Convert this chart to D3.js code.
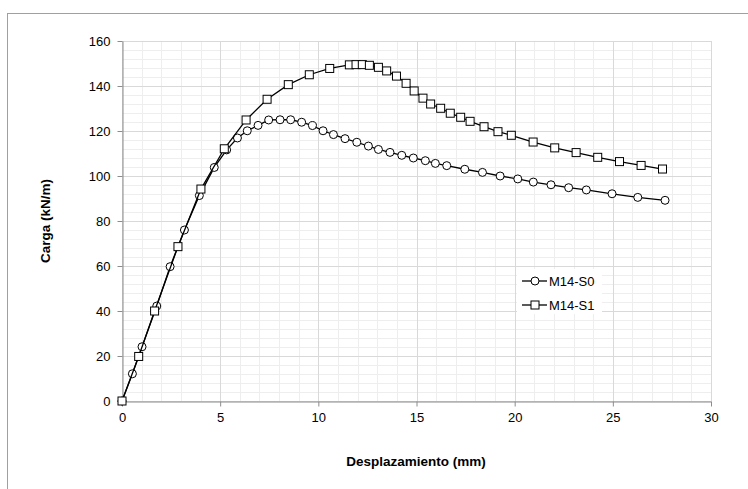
<!DOCTYPE html>
<html>
<head>
<meta charset="utf-8">
<script src="https://cdn.jsdelivr.net/npm/d3@7"></script>
<style>
    body { margin: 0; background: #fff; }
    svg text { font-family: "Liberation Sans", Arial, sans-serif; fill: #000; }
</style>
</head>
<body>
<div id="chart"></div>
<script>
// M14-S0 (circulos)
let s0x = [0, 0.53, 1.02, 1.77, 2.45, 3.18, 3.94, 4.70, 5.33, 5.88, 6.38, 6.93, 7.47, 8.05, 8.59, 9.15,
    9.70, 10.24, 10.77, 11.36, 11.96, 12.55, 13.06, 13.65, 14.25, 14.84, 15.45, 15.96, 16.54, 17.46,
    18.36, 19.26, 20.16, 20.95, 21.85, 22.75, 23.65, 24.96, 26.27, 27.66];
let s0y = [0, 12.1, 24.1, 42.2, 59.7, 76.0, 91.3, 103.8, 111.6, 116.9, 120.1, 122.5, 124.9, 125.0, 125.0, 123.9,
    122.4, 120.1, 118.4, 116.6, 115.0, 113.3, 111.8, 110.5, 109.2, 108.0, 106.8, 105.6, 104.6, 103.0,
    101.6, 100.0, 98.7, 97.3, 96.1, 94.8, 93.8, 92.1, 90.5, 89.2];

// M14-S1 (cuadrados)
let s1x = [0, 0.85, 1.66, 2.85, 4.02, 5.21, 6.32, 7.39, 8.47, 9.54, 10.58, 11.58, 11.92, 12.24, 12.6,
    13.06, 13.48, 13.98, 14.47, 14.88, 15.33, 15.72, 16.23, 16.72, 17.25, 17.73, 18.44, 19.15, 19.83,
    20.94, 22.04, 23.13, 24.23, 25.34, 26.44, 27.53];
let s1y = [0, 19.8, 40.0, 68.6, 94.2, 112.1, 124.9, 134.1, 140.6, 145.0, 147.8, 149.4, 149.5, 149.5, 149.2,
    148.3, 146.7, 144.4, 141.2, 137.8, 134.6, 132.0, 130.1, 127.9, 126.1, 124.3, 121.9, 119.7, 118.1,
    115.1, 112.5, 110.4, 108.3, 106.4, 104.7, 103.1];

let xTicks = [0, 5, 10, 15, 20, 25, 30];
let yTicks = [0, 20, 40, 60, 80, 100, 120, 140, 160];

let width = 748;
let height = 489;
let pLeft = 122, pRight = 711, pTop = 41, pBottom = 401;

let svg = d3.select('#chart')
    .append('svg')
    .attr('width', width)
    .attr('height', height);

// outer frame (continues past the window)
svg.append('rect')
    .attr('x', 7.5).attr('y', 13.5)
    .attr('width', 800).attr('height', 600)
    .attr('fill', 'none')
    .attr('stroke', '#a0a0a0');

let x = d3.scaleLinear().domain([0, 30]).range([pLeft, pRight]);
let y = d3.scaleLinear().domain([0, 160]).range([pBottom, pTop]);

let grid = svg.append('g');
// minor grid
grid.selectAll('.vmin')
    .data(d3.range(0, 31, 1))
    .enter().append('line')
    .attr('x1', d => Math.round(x(d)) + 0.5).attr('x2', d => Math.round(x(d)) + 0.5)
    .attr('y1', pTop).attr('y2', pBottom)
    .attr('stroke', '#eeeeee');
grid.selectAll('.hmin')
    .data(d3.range(0, 161, 4))
    .enter().append('line')
    .attr('x1', pLeft).attr('x2', pRight)
    .attr('y1', d => Math.round(y(d)) + 0.5).attr('y2', d => Math.round(y(d)) + 0.5)
    .attr('stroke', '#eeeeee');
// major grid
grid.selectAll('.vmaj')
    .data(xTicks)
    .enter().append('line')
    .attr('x1', d => Math.round(x(d)) + 0.5).attr('x2', d => Math.round(x(d)) + 0.5)
    .attr('y1', pTop).attr('y2', pBottom)
    .attr('stroke', '#d9d9d9');
grid.selectAll('.hmaj')
    .data(yTicks)
    .enter().append('line')
    .attr('x1', pLeft).attr('x2', pRight)
    .attr('y1', d => Math.round(y(d)) + 0.5).attr('y2', d => Math.round(y(d)) + 0.5)
    .attr('stroke', '#d9d9d9');

// axes
let xAxis = svg.append('g')
    .attr('transform', 'translate(0,' + (pBottom + 0.5) + ')')
    .call(d3.axisBottom(x).tickValues(xTicks).tickSize(5).tickPadding(6).tickSizeOuter(0));
let yAxis = svg.append('g')
    .attr('transform', 'translate(' + (pLeft + 0.5) + ',0)')
    .call(d3.axisLeft(y).tickValues(yTicks).tickSize(5).tickPadding(7).tickSizeOuter(0));

[xAxis, yAxis].forEach(a => {
    a.select('.domain').attr('stroke', '#8c8c8c');
    a.selectAll('.tick line').attr('stroke', '#8c8c8c');
    a.selectAll('text').attr('font-size', 13).attr('font-family', '"Liberation Sans", Arial, sans-serif');
});

// axis titles
svg.append('text')
    .attr('x', 416).attr('y', 466)
    .attr('text-anchor', 'middle')
    .attr('font-weight', 'bold')
    .attr('font-size', 13.5)
    .text('Desplazamiento (mm)');
svg.append('text')
    .attr('transform', 'translate(50,221) rotate(-90)')
    .attr('text-anchor', 'middle')
    .attr('font-weight', 'bold')
    .attr('font-size', 13.5)
    .text('Carga (kN/m)');

let line = d3.line().x(d => x(d[0])).y(d => y(d[1]));

let s0 = s0x.map((v, i) => [v, s0y[i]]);
let s1 = s1x.map((v, i) => [v, s1y[i]]);

function drawSeries(data, shape) {
    svg.append('path')
        .datum(data)
        .attr('d', line)
        .attr('fill', 'none')
        .attr('stroke', '#000')
        .attr('stroke-width', 1.3);
    if (shape === 'circle') {
        svg.append('g').selectAll('circle')
            .data(data)
            .enter().append('circle')
            .attr('cx', d => x(d[0])).attr('cy', d => y(d[1]))
            .attr('r', 4)
            .attr('fill', '#fff').attr('stroke', '#000').attr('stroke-width', 1);
    } else {
        svg.append('g').selectAll('rect')
            .data(data)
            .enter().append('rect')
            .attr('x', d => x(d[0]) - 4).attr('y', d => y(d[1]) - 4)
            .attr('width', 8).attr('height', 8)
            .attr('fill', '#fff').attr('stroke', '#000').attr('stroke-width', 1);
    }
}

drawSeries(s0, 'circle');
drawSeries(s1, 'square');

// legend
let legend = svg.append('g');
legend.append('rect')
    .attr('x', 517).attr('y', 269)
    .attr('width', 85).attr('height', 45)
    .attr('fill', '#fff');
let names = ['M14-S0', 'M14-S1'];
names.forEach((n, i) => {
    let ly = 281 + i * 24;
    legend.append('line')
        .attr('x1', 522).attr('x2', 547)
        .attr('y1', ly).attr('y2', ly)
        .attr('stroke', '#000').attr('stroke-width', 1.3);
    if (i === 0) {
        legend.append('circle').attr('cx', 535).attr('cy', ly).attr('r', 4)
            .attr('fill', '#fff').attr('stroke', '#000');
    } else {
        legend.append('rect').attr('x', 531).attr('y', ly - 4).attr('width', 8).attr('height', 8)
            .attr('fill', '#fff').attr('stroke', '#000');
    }
    legend.append('text')
        .attr('x', 549).attr('y', ly + 4.5)
        .attr('font-size', 13)
        .text(n);
});
</script>
</body>
</html>
